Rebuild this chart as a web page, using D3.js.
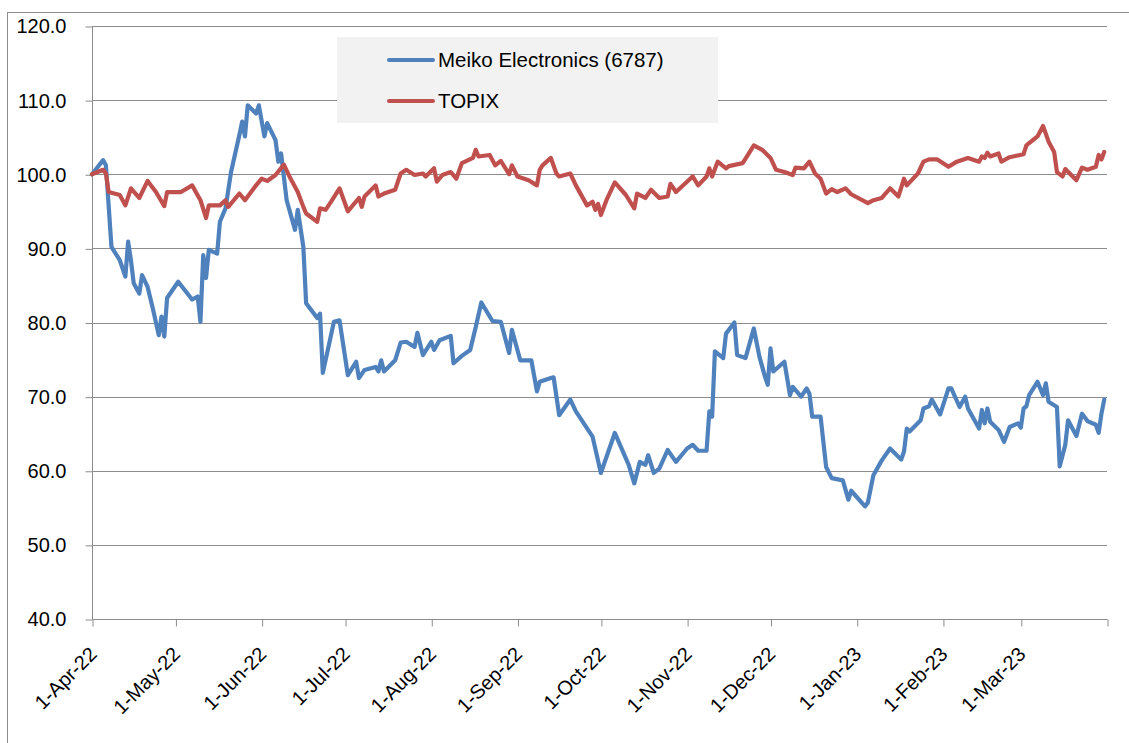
<!DOCTYPE html>
<html>
<head>
<meta charset="utf-8">
<script src="https://cdn.jsdelivr.net/npm/d3@7"></script>
<style>
  html, body { margin: 0; padding: 0; background: #ffffff; }
  svg { display: block; }
  text { font-family: "Liberation Sans", Arial, sans-serif; fill: #000; }
</style>
</head>
<body>
<svg id="chart" width="1129" height="743"></svg>
<script>
// ---- Data ----
const seriesNames = ["Meiko Electronics (6787)", "TOPIX"];
const seriesColors = ["#4F81BD", "#C0504D"];

const yTickValues = [40, 50, 60, 70, 80, 90, 100, 110, 120];

const meikoDates = ["2022-04-01","2022-04-05","2022-04-06","2022-04-08","2022-04-11","2022-04-13","2022-04-14","2022-04-15","2022-04-16","2022-04-18","2022-04-19","2022-04-21","2022-04-23","2022-04-25","2022-04-26","2022-04-27","2022-04-28","2022-05-02","2022-05-07","2022-05-09","2022-05-10","2022-05-11","2022-05-12","2022-05-13","2022-05-16","2022-05-17","2022-05-19","2022-05-21","2022-05-24","2022-05-25","2022-05-26","2022-05-27","2022-05-30","2022-05-31","2022-06-02","2022-06-03","2022-06-06","2022-06-07","2022-06-08","2022-06-10","2022-06-13","2022-06-14","2022-06-16","2022-06-17","2022-06-21","2022-06-22","2022-06-23","2022-06-27","2022-06-29","2022-07-02","2022-07-05","2022-07-06","2022-07-08","2022-07-12","2022-07-13","2022-07-14","2022-07-15","2022-07-19","2022-07-21","2022-07-23","2022-07-26","2022-07-27","2022-07-29","2022-08-01","2022-08-02","2022-08-04","2022-08-08","2022-08-09","2022-08-12","2022-08-15","2022-08-17","2022-08-19","2022-08-23","2022-08-26","2022-08-29","2022-08-30","2022-09-02","2022-09-06","2022-09-08","2022-09-09","2022-09-13","2022-09-14","2022-09-16","2022-09-20","2022-09-22","2022-09-28","2022-10-01","2022-10-06","2022-10-11","2022-10-13","2022-10-15","2022-10-17","2022-10-18","2022-10-20","2022-10-22","2022-10-25","2022-10-28","2022-11-01","2022-11-03","2022-11-05","2022-11-08","2022-11-09","2022-11-10","2022-11-11","2022-11-14","2022-11-15","2022-11-18","2022-11-19","2022-11-22","2022-11-25","2022-11-27","2022-11-29","2022-11-30","2022-12-01","2022-12-02","2022-12-06","2022-12-08","2022-12-09","2022-12-12","2022-12-14","2022-12-15","2022-12-16","2022-12-19","2022-12-21","2022-12-23","2022-12-27","2022-12-29","2022-12-30","2023-01-04","2023-01-05","2023-01-07","2023-01-10","2023-01-13","2023-01-17","2023-01-18","2023-01-19","2023-01-20","2023-01-24","2023-01-25","2023-01-27","2023-01-28","2023-01-31","2023-02-03","2023-02-04","2023-02-07","2023-02-09","2023-02-10","2023-02-14","2023-02-15","2023-02-16","2023-02-17","2023-02-18","2023-02-21","2023-02-23","2023-02-25","2023-02-28","2023-03-01","2023-03-02","2023-03-03","2023-03-04","2023-03-07","2023-03-09","2023-03-10","2023-03-11","2023-03-14","2023-03-15","2023-03-17","2023-03-18","2023-03-21","2023-03-23","2023-03-25","2023-03-28","2023-03-29","2023-03-30","2023-03-31"];
const meikoValues = [100.0,101.9,101.2,90.2,88.4,86.2,90.9,88.4,85.3,83.9,86.4,84.8,81.7,78.3,80.8,78.1,83.3,85.5,83.1,83.5,80.1,89.1,86.0,89.8,89.3,93.6,95.4,100.3,105.3,107.1,105.1,109.3,108.2,109.3,105.1,106.9,104.6,101.7,102.8,96.5,92.5,95.2,90.2,82.6,80.6,81.2,73.2,80.1,80.3,72.9,74.7,72.5,73.6,74.0,73.4,74.9,73.4,74.9,77.3,77.4,76.7,78.6,75.6,77.4,76.3,77.6,78.2,74.5,75.5,76.3,79.4,82.7,80.2,80.1,75.9,79.0,74.9,74.9,70.7,72.0,72.5,72.6,67.5,69.6,68.0,64.6,59.7,65.1,60.8,58.3,61.2,60.8,62.1,59.7,60.3,62.8,61.2,63.0,63.5,62.7,62.7,68.0,67.3,76.1,75.2,78.5,80.0,75.6,75.2,79.2,75.4,72.7,71.6,76.5,73.4,74.7,70.2,71.3,70.0,71.1,70.4,67.3,67.3,60.5,59.0,58.7,56.1,57.3,55.2,55.7,59.4,61.4,63.0,61.5,62.6,65.7,65.3,66.8,68.4,68.7,69.6,67.6,71.1,71.1,68.6,70.0,68.4,65.7,68.2,66.4,68.4,66.6,65.5,63.9,65.9,66.4,65.8,68.4,68.7,70.2,72.0,70.2,71.8,69.3,68.6,60.6,63.5,66.8,64.7,67.7,66.7,66.2,65.1,67.7,69.6];

const topixDates = ["2022-04-01","2022-04-05","2022-04-06","2022-04-07","2022-04-11","2022-04-13","2022-04-15","2022-04-18","2022-04-21","2022-04-24","2022-04-27","2022-04-28","2022-05-03","2022-05-07","2022-05-10","2022-05-12","2022-05-13","2022-05-17","2022-05-19","2022-05-20","2022-05-24","2022-05-26","2022-05-30","2022-06-01","2022-06-03","2022-06-06","2022-06-09","2022-06-11","2022-06-14","2022-06-16","2022-06-17","2022-06-21","2022-06-22","2022-06-24","2022-06-26","2022-06-29","2022-07-02","2022-07-06","2022-07-07","2022-07-08","2022-07-12","2022-07-13","2022-07-15","2022-07-19","2022-07-21","2022-07-23","2022-07-26","2022-07-29","2022-07-30","2022-08-02","2022-08-03","2022-08-05","2022-08-08","2022-08-10","2022-08-12","2022-08-16","2022-08-17","2022-08-18","2022-08-22","2022-08-24","2022-08-26","2022-08-29","2022-08-30","2022-09-01","2022-09-05","2022-09-08","2022-09-09","2022-09-10","2022-09-13","2022-09-15","2022-09-16","2022-09-20","2022-09-22","2022-09-26","2022-09-28","2022-09-29","2022-09-30","2022-10-01","2022-10-03","2022-10-06","2022-10-10","2022-10-13","2022-10-14","2022-10-17","2022-10-19","2022-10-22","2022-10-25","2022-10-26","2022-10-28","2022-11-03","2022-11-05","2022-11-08","2022-11-09","2022-11-10","2022-11-12","2022-11-15","2022-11-16","2022-11-21","2022-11-25","2022-11-28","2022-12-01","2022-12-03","2022-12-06","2022-12-09","2022-12-10","2022-12-13","2022-12-15","2022-12-17","2022-12-19","2022-12-21","2022-12-23","2022-12-25","2022-12-28","2022-12-30","2023-01-05","2023-01-07","2023-01-10","2023-01-13","2023-01-16","2023-01-18","2023-01-19","2023-01-23","2023-01-25","2023-01-27","2023-01-30","2023-02-03","2023-02-06","2023-02-10","2023-02-14","2023-02-15","2023-02-16","2023-02-17","2023-02-18","2023-02-21","2023-02-22","2023-02-25","2023-03-02","2023-03-03","2023-03-07","2023-03-09","2023-03-11","2023-03-13","2023-03-14","2023-03-16","2023-03-17","2023-03-21","2023-03-23","2023-03-25","2023-03-28","2023-03-29","2023-03-30","2023-03-31"];
const topixValues = [100.0,100.6,100.1,97.6,97.2,95.8,98.1,96.8,99.1,97.6,95.7,97.6,97.6,98.5,96.5,94.1,95.8,95.8,96.5,95.6,97.4,96.5,98.5,99.4,99.1,99.9,101.3,99.7,97.6,95.6,94.7,93.6,95.4,95.2,96.3,98.1,95.0,96.8,95.6,97.0,98.5,97.0,97.4,97.9,100.1,100.6,99.9,100.1,99.7,100.8,99.0,99.9,100.3,99.4,101.5,102.2,103.3,102.4,102.6,101.2,101.8,100.0,101.2,99.7,99.2,98.5,100.6,101.2,102.2,100.1,99.7,100.1,98.5,95.8,96.3,95.2,96.0,94.5,96.5,98.9,97.2,95.4,97.4,96.8,97.9,96.8,97.0,98.7,97.6,99.7,98.5,99.7,100.8,99.7,101.7,100.8,101.1,101.5,103.9,103.3,102.2,100.6,100.3,99.9,100.9,100.8,101.7,100.1,99.4,97.4,98.0,97.6,98.1,97.3,96.1,96.5,96.8,98.1,97.0,99.4,98.5,100.1,101.7,102.0,102.0,101.0,101.7,102.2,101.7,102.4,102.2,102.9,102.4,102.8,101.7,102.3,102.7,103.9,105.1,106.5,104.4,103.0,100.3,99.7,100.7,99.2,100.9,100.6,101.0,102.6,102.0,103.0];

const axisStart = "2022-04-01";
const axisEnd = "2023-04-01";

// ---- Chart ----
const parse = d3.timeParse("%Y-%m-%d");
const svg = d3.select("#chart");
const W = 1129, H = 743;
const margin = { left: 92, right: 1107, top: 26, bottom: 619 };

// outer chart border
svg.append("rect")
  .attr("x", 7.5).attr("y", 12.5)
  .attr("width", W).attr("height", H)
  .attr("fill", "#ffffff")
  .attr("stroke", "#8c8c8c").attr("stroke-width", 1);

const x = d3.scaleTime()
  .domain([parse(axisStart), parse(axisEnd)])
  .range([margin.left, margin.right]);
const y = d3.scaleLinear()
  .domain([40, 120])
  .range([margin.bottom, margin.top]);

// gridlines
svg.append("g")
  .selectAll("line")
  .data(yTickValues.filter(v => v !== 40))
  .join("line")
  .attr("x1", margin.left).attr("x2", margin.right)
  .attr("y1", d => Math.round(y(d)) + 0.5).attr("y2", d => Math.round(y(d)) + 0.5)
  .attr("stroke", "#8c8c8c").attr("stroke-width", 1);

// y axis
const yAxis = d3.axisLeft(y)
  .tickValues(yTickValues)
  .tickSize(7)
  .tickPadding(19)
  .tickFormat(d3.format(".1f"));
const gy = svg.append("g")
  .attr("transform", `translate(${margin.left + 0.5},0.5)`)
  .call(yAxis);
gy.select(".domain").attr("stroke", "#8c8c8c").attr("d", `M0,${margin.top}V${margin.bottom}`);
gy.selectAll(".tick line").attr("stroke", "#8c8c8c");
gy.selectAll(".tick text")
  .style("font-family", '"Liberation Sans", Arial, sans-serif')
  .style("font-size", "20px")
  .attr("fill", "#000");

// x axis
const monthTicks = d3.timeMonth.range(parse(axisStart), d3.timeDay.offset(parse(axisEnd), 1));
const xFmt = d3.timeFormat("%-d-%b-%y");
const xAxis = d3.axisBottom(x)
  .tickValues(monthTicks)
  .tickSize(7)
  .tickFormat((d, i) => i < monthTicks.length - 1 ? xFmt(d) : "");
const gx = svg.append("g")
  .attr("transform", `translate(0.5,${margin.bottom + 0.5})`)
  .call(xAxis);
gx.select(".domain").attr("stroke", "#8c8c8c").attr("d", `M${margin.left},0H${margin.right}`);
gx.selectAll(".tick line").attr("stroke", "#8c8c8c");
gx.selectAll(".tick text")
  .style("font-family", '"Liberation Sans", Arial, sans-serif')
  .style("font-size", "20px")
  .attr("fill", "#000")
  .attr("text-anchor", "end")
  .attr("dy", null)
  .attr("y", 0)
  .attr("transform", "translate(5,36) rotate(-45)");

// lines (TOPIX drawn last, on top, as in the reference)
const seriesData = [
  meikoDates.map((d, i) => ({ date: parse(d), value: meikoValues[i] })),
  topixDates.map((d, i) => ({ date: parse(d), value: topixValues[i] }))
];
const line = d3.line().x(d => x(d.date)).y(d => y(d.value));

[0, 1].forEach(k => {
  svg.append("path")
    .datum(seriesData[k])
    .attr("fill", "none")
    .attr("stroke", seriesColors[k])
    .attr("stroke-width", 4.2)
    .attr("stroke-linejoin", "round")
    .attr("stroke-linecap", "round")
    .attr("d", line);
});

// legend
const lg = svg.append("g");
lg.append("rect")
  .attr("x", 337).attr("y", 37).attr("width", 381).attr("height", 86)
  .attr("fill", "#f2f2f2");
seriesNames.forEach((name, i) => {
  const cy = 60 + i * 41;
  lg.append("line")
    .attr("x1", 389).attr("x2", 433)
    .attr("y1", cy).attr("y2", cy)
    .attr("stroke", seriesColors[i]).attr("stroke-width", 4)
    .attr("stroke-linecap", "round");
  lg.append("text")
    .attr("x", 438).attr("y", cy)
    .attr("dy", "0.35em")
    .style("font-size", "20.5px")
    .text(name);
});
</script>
</body>
</html>
